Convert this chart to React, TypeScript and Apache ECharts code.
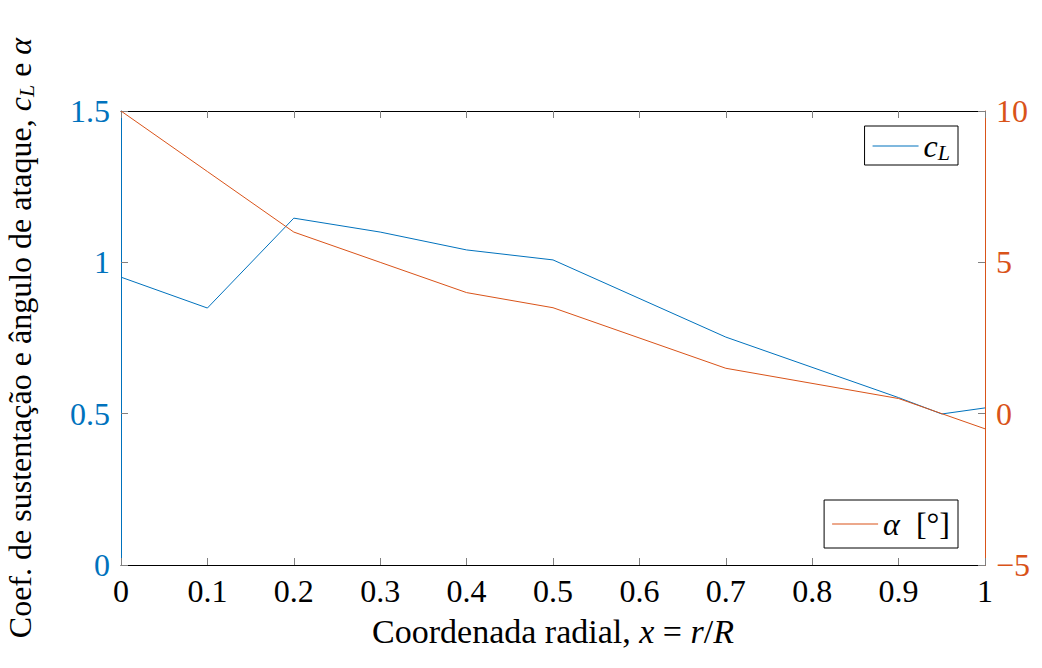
import React, { useEffect, useRef } from "react";
import * as echarts from "echarts";

const xCL = [0, 0.1, 0.2, 0.3, 0.4, 0.5, 0.7, 0.9, 0.95, 1];
const cL = [0.951, 0.849, 1.146, 1.1, 1.041, 1.008, 0.753, 0.553, 0.499, 0.519];
const xAlpha = [0, 0.1, 0.2, 0.3, 0.4, 0.5, 0.7, 0.9, 1];
const alpha = [10, 8, 6, 5, 4, 3.5, 1.5, 0.5, -0.5];
const leftTicks = [0, 0.5, 1, 1.5];
const rightTicks = [-5, 0, 5, 10];

const BLUE = "#0072BD";
const ORANGE = "#D95319";
const FONT = "Liberation Serif";
const FS = 32;
const NFS = 34;
const YFS = 32;

export default function App() {
  const ref = useRef<HTMLDivElement>(null);
  useEffect(() => {
    const chart = echarts.init(ref.current!, undefined, { renderer: "svg" });
    const fmtX = (v: number) => String(parseFloat(v.toFixed(2)));
    const tick = { show: true, inside: true, length: 7, lineStyle: { color: "#808080", width: 1 } };
    const mk = (fs: number, sub: number) => ({
      n: { fontSize: fs, fontFamily: FONT, color: "#000" },
      i: { fontSize: fs, fontFamily: FONT, fontStyle: "italic", color: "#000" },
      s: { fontSize: sub, fontFamily: FONT, fontStyle: "italic", color: "#000", padding: [12, 0, 0, 0] },
    });
    chart.setOption({
      animation: false,
      backgroundColor: "#fff",
      textStyle: { fontFamily: FONT },
      grid: { left: 121, right: 57, top: 111, bottom: 103, containLabel: false, outerBoundsMode: "none" },
      xAxis: [
        {
          type: "value",
          min: 0,
          max: 1,
          interval: 0.1,
          position: "bottom",
          axisLine: { show: true, onZero: false, lineStyle: { color: "#000", width: 1 } },
          axisTick: tick,
          splitLine: { show: false },
          axisLabel: { formatter: fmtX, color: "#000", fontSize: FS, fontFamily: FONT, margin: 10 },
          name: "{n|Coordenada radial, }{i|x}{n| = }{i|r}{n|/}{i|R}",
          nameLocation: "middle",
          nameGap: 49,
          nameTextStyle: { color: "#000", fontSize: NFS, fontFamily: FONT, rich: mk(NFS, 23) },
        },
        {
          type: "value",
          min: 0,
          max: 1,
          interval: 0.1,
          position: "top",
          axisLine: { show: true, onZero: false, lineStyle: { color: "#000", width: 1 } },
          axisTick: tick,
          axisLabel: { show: false },
          splitLine: { show: false },
        },
      ],
      yAxis: [
        {
          type: "value",
          min: leftTicks[0],
          max: leftTicks[leftTicks.length - 1],
          interval: 0.5,
          position: "left",
          axisLine: { show: true, onZero: false, lineStyle: { color: BLUE, width: 1 } },
          axisTick: tick,
          splitLine: { show: false },
          axisLabel: { color: BLUE, fontSize: FS, fontFamily: FONT, margin: 11 },
          name: "{n|Coef. de sustentação e ângulo de ataque, }{i|c}{s|L}{n| e }{i|α}",
          nameLocation: "middle",
          nameRotate: 90,
          nameGap: 84,
          nameTextStyle: { color: "#000", fontSize: YFS, fontFamily: FONT, rich: mk(YFS, 22) },
        },
        {
          type: "value",
          min: rightTicks[0],
          max: rightTicks[rightTicks.length - 1],
          interval: 5,
          position: "right",
          axisLine: { show: true, onZero: false, lineStyle: { color: ORANGE, width: 1 } },
          axisTick: tick,
          splitLine: { show: false },
          axisLabel: {
            color: ORANGE,
            fontSize: FS,
            fontFamily: FONT,
            margin: 11,
            formatter: (v: number) => String(v).replace("-", "\u2212"),
          },
        },
      ],
      legend: [
        {
          data: ["cL"],
          right: 84,
          top: 126,
          orient: "vertical",
          backgroundColor: "#fff",
          borderColor: "#000",
          borderWidth: 1,
          borderRadius: 0,
          padding: [4, 8, 2, 8],
          icon: "rect",
          itemWidth: 46,
          itemHeight: 1,
          formatter: () => "{i|c}{s|L}",
          textStyle: { rich: mk(FS, 22) },
        },
        {
          data: ["alpha"],
          right: 84,
          top: 500,
          orient: "vertical",
          backgroundColor: "#fff",
          borderColor: "#000",
          borderWidth: 1,
          borderRadius: 0,
          padding: [8, 8, 8, 8],
          icon: "rect",
          itemWidth: 46,
          itemHeight: 1,
          formatter: () => "{i|α}{n|  [°]}",
          textStyle: { rich: mk(FS, 22) },
        },
      ],
      series: [
        {
          name: "cL",
          type: "line",
          xAxisIndex: 0,
          yAxisIndex: 0,
          data: xCL.map((x, i) => [x, cL[i]]),
          showSymbol: false,
          symbol: "none",
          lineStyle: { color: BLUE, width: 1 },
          itemStyle: { color: BLUE },
        },
        {
          name: "alpha",
          type: "line",
          xAxisIndex: 0,
          yAxisIndex: 1,
          data: xAlpha.map((x, i) => [x, alpha[i]]),
          showSymbol: false,
          symbol: "none",
          lineStyle: { color: ORANGE, width: 1 },
          itemStyle: { color: ORANGE },
        },
      ],
    });
    return () => chart.dispose();
  }, []);
  return <div ref={ref} style={{ width: 1042, height: 668, position: "absolute", left: 0, top: 0 }} />;
}
